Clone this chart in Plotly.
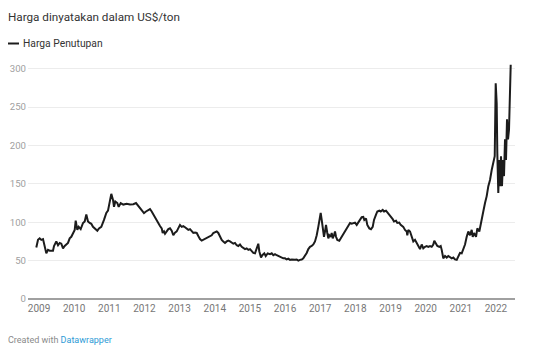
import plotly.graph_objects as go

title_text = "Harga dinyatakan dalam US$/ton"
series_name = "Harga Penutupan"
year_ticks = list(range(2009, 2023))
year_labels = [str(y) for y in year_ticks]
y_ticks = [0, 50, 100, 150, 200, 250, 300]

# time (decimal year) and closing price (US$/ton)
t_2009_2011 = [2008.923, 2008.972, 2009.020, 2009.065, 2009.114, 2009.162, 2009.208, 2009.256, 2009.304,
               2009.398, 2009.427, 2009.492, 2009.541, 2009.589, 2009.634, 2009.683, 2009.731, 2009.825,
               2009.873, 2009.919, 2009.967, 2010.016, 2010.044, 2010.090, 2010.129, 2010.186, 2010.252,
               2010.300, 2010.346, 2010.394, 2010.442, 2010.488, 2010.536, 2010.585, 2010.659, 2010.707,
               2010.772, 2010.849, 2010.915, 2010.963, 2011.011, 2011.057, 2011.105, 2011.134, 2011.171,
               2011.228, 2011.267, 2011.324]
p_2009_2011 = [67, 77, 79, 77, 78, 66, 59.5, 64, 63,
               63, 69, 75, 70, 73, 72, 66, 69, 73,
               79, 81, 86, 90, 102, 90, 94, 91, 99,
               101, 110, 101, 99, 98, 94, 92, 89, 92,
               94, 103, 112, 115, 127, 137, 129, 120, 127,
               125, 120, 125]

t_2011_2014 = [2011.398, 2011.495, 2011.589, 2011.683, 2011.760, 2011.825, 2011.893, 2011.950, 2011.987,
               2012.044, 2012.110, 2012.158, 2012.206, 2012.252, 2012.300, 2012.349, 2012.394, 2012.442,
               2012.491, 2012.519, 2012.556, 2012.585, 2012.633, 2012.679, 2012.727, 2012.775, 2012.821,
               2012.869, 2012.918, 2012.963, 2013.011, 2013.060, 2013.105, 2013.154, 2013.202, 2013.248,
               2013.296, 2013.344, 2013.390, 2013.438, 2013.487, 2013.532, 2013.580, 2013.629, 2013.674,
               2013.723, 2013.771, 2013.817, 2013.865, 2013.913, 2013.959, 2014.007, 2014.056]
p_2011_2014 = [123, 124, 123, 123.5, 125, 121, 117, 113, 112,
               114, 116, 117, 114, 110, 107, 103, 99, 95,
               92, 86, 88, 85, 88, 91, 92, 89, 83,
               86.5, 88, 92, 96.5, 94, 95, 93.5, 91, 90,
               91, 88, 86, 86.5, 86, 82, 78, 76, 77,
               79, 79, 81, 82, 83, 86, 87, 88]

t_2014_2016 = [2014.101, 2014.149, 2014.198, 2014.243, 2014.292, 2014.340, 2014.386, 2014.434, 2014.482,
               2014.528, 2014.576, 2014.625, 2014.670, 2014.718, 2014.767, 2014.812, 2014.861, 2014.909,
               2014.955, 2015.003, 2015.051, 2015.097, 2015.145, 2015.194, 2015.239, 2015.268, 2015.316,
               2015.353, 2015.410, 2015.450, 2015.506, 2015.572, 2015.620, 2015.666, 2015.714, 2015.763,
               2015.808, 2015.857, 2015.905, 2015.950, 2015.999, 2016.047, 2016.093, 2016.141, 2016.189,
               2016.235, 2016.283, 2016.332, 2016.377, 2016.425, 2016.474, 2016.519, 2016.568, 2016.616,
               2016.662, 2016.710, 2016.758, 2016.804, 2016.852]
p_2014_2016 = [86, 81, 77, 75, 73, 75, 76, 75, 74,
               72, 73, 70, 69, 71, 68, 66, 65, 66,
               64, 65, 62, 60, 59.5, 68, 72, 62, 54,
               57, 59.5, 56, 59.5, 58.5, 59.5, 57, 58.5, 57,
               56, 54, 53, 53, 53, 51.5, 52.5, 51, 51.5,
               51, 51, 51.5, 50, 51, 51.5, 53, 56, 60,
               65, 68, 69, 71, 75]

t_2016_2019 = [2016.901, 2016.946, 2016.975, 2017.014, 2017.043, 2017.071, 2017.108, 2017.137, 2017.165,
               2017.202, 2017.231, 2017.259, 2017.299, 2017.327, 2017.356, 2017.393, 2017.421, 2017.450,
               2017.487, 2017.543, 2017.583, 2017.612, 2017.657, 2017.706, 2017.754, 2017.800, 2017.848,
               2017.896, 2017.942, 2017.990, 2018.039, 2018.084, 2018.132, 2018.181, 2018.226, 2018.255,
               2018.303, 2018.340, 2018.397, 2018.445, 2018.494, 2018.531, 2018.588, 2018.625, 2018.682,
               2018.721, 2018.778, 2018.815, 2018.872, 2018.909, 2018.966, 2019.006, 2019.063, 2019.100,
               2019.157, 2019.194, 2019.250, 2019.290]
p_2016_2019 = [83, 94, 105, 112, 103, 90, 81, 88, 96.5,
               86, 79, 83, 81, 86, 79, 83, 88, 81,
               77, 76, 79, 81, 86, 88, 92, 96.5, 99,
               98, 99, 99.5, 96.5, 99.5, 103, 106.5, 107, 103,
               105, 96.5, 92, 91, 94, 103, 110, 114, 115,
               114, 116, 114, 115, 113, 110, 107, 104, 101,
               102, 99, 99.5, 96.5]

t_2019_2021 = [2019.364, 2019.413, 2019.461, 2019.478, 2019.507, 2019.555, 2019.603, 2019.649, 2019.697,
               2019.746, 2019.791, 2019.839, 2019.888, 2019.933, 2019.982, 2020.030, 2020.076, 2020.124,
               2020.172, 2020.218, 2020.246, 2020.295, 2020.332, 2020.388, 2020.428, 2020.457, 2020.502,
               2020.551, 2020.599, 2020.645, 2020.693, 2020.741, 2020.787, 2020.835, 2020.884, 2020.929,
               2020.977, 2021.026, 2021.071, 2021.120, 2021.168, 2021.214, 2021.262, 2021.310, 2021.339,
               2021.376, 2021.433, 2021.470, 2021.527, 2021.567]
p_2019_2021 = [94, 90, 88, 83, 90, 88, 81, 75, 77,
               73, 69, 65, 71, 66, 68, 69, 68, 69,
               68, 71, 76, 71, 69, 68, 69, 64, 53,
               56, 54, 56, 54, 53, 54, 51.5, 51, 55,
               60, 59.5, 64, 71, 81, 88, 83, 90, 81,
               86, 81, 92, 88, 99]

t_2021_2022 = [2021.640, 2021.689, 2021.737, 2021.783, 2021.831, 2021.879, 2021.925, 2021.965, 2021.993,
               2022.021, 2022.039, 2022.067, 2022.096, 2022.115, 2022.144, 2022.172, 2022.201, 2022.229,
               2022.258, 2022.286, 2022.315, 2022.343, 2022.372, 2022.400, 2022.420]
p_2021_2022 = [114, 125, 134, 147, 155, 168, 177, 186, 281,
               255, 190, 138, 181, 147, 186, 147, 181, 160,
               208, 181, 234, 208, 221, 260, 305]

t_all = t_2009_2011 + t_2011_2014 + t_2014_2016 + t_2016_2019 + t_2019_2021 + t_2021_2022
p_all = p_2009_2011 + p_2011_2014 + p_2014_2016 + p_2016_2019 + p_2019_2021 + p_2021_2022

# figure sits inside the page's default 8px body margin
PW, PH = 487, 238  # plot area size in px
L, T = 20, 53

fig = go.Figure()
fig.add_trace(go.Scatter(
    x=t_all, y=p_all, mode="lines", name=series_name,
    line=dict(color="#1c1c1c", width=2), showlegend=False,
    hoverinfo="x+y",
))

fig.update_layout(
    width=529, height=352,
    margin=dict(l=L, r=529 - L - PW, t=T, b=352 - T - PH),
    paper_bgcolor="white", plot_bgcolor="white",
    font=dict(family="Roboto, 'Open Sans', sans-serif", size=10, color="#333"),
    xaxis=dict(
        range=[2008.687, 2022.542], tickvals=year_ticks, ticktext=year_labels,
        showgrid=False, zeroline=False, showline=False, ticks="", automargin=False,
        tickfont=dict(size=10, color="#777"), ticklabelstandoff=2, fixedrange=True,
    ),
    yaxis=dict(
        range=[0, 310], tickvals=y_ticks, showgrid=True, gridcolor="#ececec", gridwidth=1,
        zeroline=True, zerolinecolor="#a0a0a0", zerolinewidth=1.6, showline=False, ticks="",
        automargin=False,
        tickfont=dict(size=9.6, color="#a0a0a0"), ticklabelstandoff=1, fixedrange=True,
    ),
    shapes=[dict(type="line", xref="paper", yref="paper",
                 x0=(0 - L) / PW, x1=(11 - L) / PW,
                 y0=(T + PH - 35.5) / PH, y1=(T + PH - 35.5) / PH,
                 line=dict(color="#1c1c1c", width=2))],
    annotations=[
        dict(text=title_text, xref="paper", yref="paper", x=(0 - L) / PW, y=(T + PH - 9) / PH,
             xanchor="left", yanchor="middle", showarrow=False, xshift=-2,
             font=dict(size=11.7, color="#333")),
        dict(text=series_name, xref="paper", yref="paper", x=(15 - L) / PW, y=(T + PH - 35.5) / PH,
             xanchor="left", yanchor="middle", showarrow=False, xshift=-2,
             font=dict(size=10.3, color="#333")),
        dict(text="Created with <span style='color:#2e9bd6'>Datawrapper</span>",
             xref="paper", yref="paper", x=(0 - L) / PW, y=(T + PH - 332) / PH,
             xanchor="left", yanchor="middle", showarrow=False, xshift=-2,
             font=dict(size=9, color="#8a8a8a")),
    ],
)

fig.write_html("out.html")
